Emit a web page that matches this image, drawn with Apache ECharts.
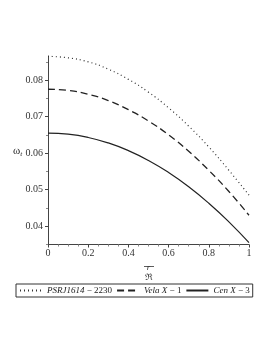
<!DOCTYPE html>
<html>
<head>
<meta charset="utf-8">
<script src="https://cdn.jsdelivr.net/npm/echarts@6/dist/echarts.min.js"></script>
<style>
html,body{margin:0;padding:0;background:#fff;}
#c{width:273px;height:353px;}
</style>
</head>
<body>
<div id="c"></div>
<script>
// Data
var rValues = [0, 0.1, 0.2, 0.3, 0.4, 0.5, 0.6, 0.7, 0.8, 0.9, 1.0];
var psrValues = [0.0865, 0.0861, 0.0850, 0.0830, 0.0802, 0.0767, 0.0724, 0.0674, 0.0617, 0.0553, 0.0485];
var velaValues = [0.0775, 0.0772, 0.0761, 0.0744, 0.0719, 0.0688, 0.0650, 0.0605, 0.0553, 0.0495, 0.0430];
var cenValues = [0.0655, 0.0652, 0.0643, 0.0628, 0.0607, 0.0580, 0.0547, 0.0508, 0.0463, 0.0412, 0.0355];
var yTicks = [0.04, 0.05, 0.06, 0.07, 0.08];
var yMinorTicks = [0.035, 0.045, 0.055, 0.065, 0.075, 0.085];
var seriesNames = ['PSRJ1614 − 2230', 'Vela X − 1', 'Cen X − 3'];

function pairs(vals) { return rValues.map(function (r, i) { return [r, vals[i]]; }); }

var chart = echarts.init(document.getElementById('c'), null, {renderer: 'canvas'});
var font = '"Liberation Serif", "DejaVu Serif", serif';
var axisColor = '#444';
var textColor = '#333';

chart.setOption({
  animation: false,
  backgroundColor: '#fff',
  textStyle: {fontFamily: font},
  grid: {left: 48, right: 24, top: 56, bottom: 108.5, containLabel: false},
  xAxis: {
    type: 'value', min: 0, max: 1, interval: 0.2,
    axisLine: {show: true, lineStyle: {color: axisColor, width: 1}},
    axisTick: {show: true, length: 3, lineStyle: {color: axisColor}},
    minorTick: {show: true, splitNumber: 4, length: 2, lineStyle: {color: '#888'}},
    splitLine: {show: false},
    axisLabel: {
      fontFamily: font, fontSize: 10, color: textColor, margin: 4,
      formatter: function (v) { return (v === 0 || v === 1) ? String(v) : v.toFixed(1); }
    },
    name: '{r|r}\n{R|ℜ}',
    nameLocation: 'middle', nameGap: 12,
    nameTextStyle: {
      rich: {
        r: {fontFamily: font, fontStyle: 'italic', fontSize: 9, color: textColor, lineHeight: 9, align: 'center'},
        R: {fontFamily: font, fontSize: 9, color: textColor, lineHeight: 9, align: 'center', padding: [2, 0, 0, 0]}
      }
    }
  },
  yAxis: [{
    type: 'value', min: 0.035, max: 0.0866,
    axisLine: {show: true, lineStyle: {color: axisColor, width: 1}},
    axisTick: {show: true, length: 3, customValues: yTicks, lineStyle: {color: axisColor}},
    splitLine: {show: false},
    axisLabel: {
      fontFamily: font, fontSize: 10, color: textColor, margin: 5,
      customValues: yTicks,
      formatter: function (v) { return v.toFixed(2); }
    }
  }, {
    type: 'value', min: 0.035, max: 0.0866, position: 'left',
    axisLine: {show: false},
    axisTick: {show: true, length: 2, customValues: yMinorTicks, lineStyle: {color: '#888'}},
    axisLabel: {show: false},
    splitLine: {show: false}
  }],
  legend: {
    show: true,
    left: 16, top: 284,
    orient: 'horizontal',
    itemWidth: 22, itemHeight: 8, itemGap: 4,
    padding: [2, 3, 2, 3],
    borderColor: '#333', borderWidth: 1, borderRadius: 0,
    itemStyle: {opacity: 0},
    textStyle: {
      fontFamily: font, fontSize: 9, color: '#222',
      rich: {
        i: {fontFamily: font, fontStyle: 'italic', fontSize: 9, color: '#222'},
        n: {fontFamily: font, fontSize: 9, color: '#222'}
      }
    },
    formatter: function (name) {
      if (name === seriesNames[0]) return '{i|PSRJ1614} {n|− 2230}';
      if (name === seriesNames[1]) return '{i|Vela X} {n|− 1}';
      return '{i|Cen X} {n|− 3}';
    }
  },
  graphic: [{
    type: 'text', left: 13, top: 146,
    style: {
      text: '{w|ω}{t|t}',
      rich: {
        w: {fontFamily: font, fontSize: 11, fill: '#222'},
        t: {fontFamily: font, fontStyle: 'italic', fontSize: 7, fill: '#222', padding: [5, 0, 0, 0]}
      }
    }
  }, {
    type: 'line', shape: {x1: 144, y1: 266.5, x2: 154, y2: 266.5},
    style: {stroke: '#333', lineWidth: 0.8}
  }],
  series: [{
    name: seriesNames[0], type: 'line', data: pairs(psrValues), smooth: true,
    symbol: 'none', lineStyle: {color: '#333', width: 1.2, type: [1, 3]}, itemStyle: {color: '#333'}
  }, {
    name: seriesNames[1], type: 'line', data: pairs(velaValues), smooth: true,
    symbol: 'none', lineStyle: {color: '#222', width: 1.3, type: [7, 4]}, itemStyle: {color: '#222'}
  }, {
    name: seriesNames[2], type: 'line', data: pairs(cenValues), smooth: true,
    symbol: 'none', lineStyle: {color: '#222', width: 1.2, type: 'solid'}, itemStyle: {color: '#222'}
  }]
});
</script>
</body>
</html>
